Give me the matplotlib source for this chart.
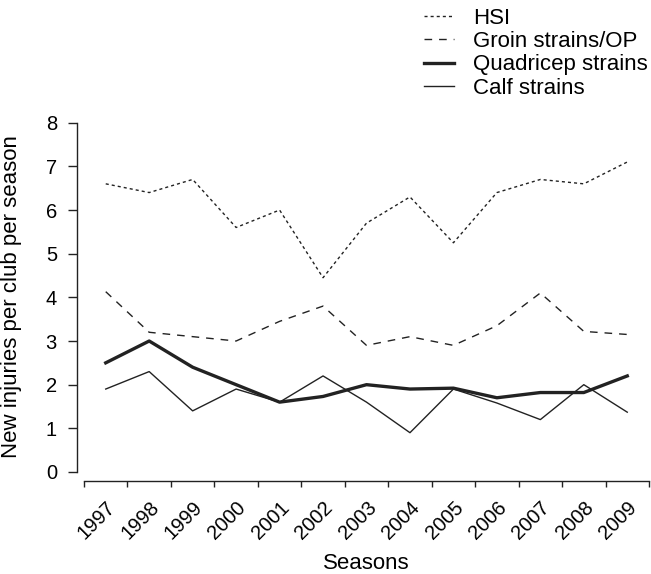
#!/usr/bin/env python

import numpy as np
import matplotlib.pyplot as plt

# Seasons and injury rates (new injuries per club per season).
seasons = ["1997", "1998", "1999", "2000", "2001", "2002", "2003",
           "2004", "2005", "2006", "2007", "2008", "2009"]
hsi = [6.6, 6.4, 6.7, 5.6, 6.0, 4.45, 5.7, 6.3, 5.25, 6.4, 6.7, 6.6, 7.1]
groin = [4.13, 3.2, 3.1, 3.0, 3.45, 3.8, 2.9, 3.1, 2.9, 3.35, 4.1, 3.22, 3.15]
quad = [2.5, 3.0, 2.4, 2.0, 1.6, 1.73, 2.0, 1.9, 1.92, 1.7, 1.82, 1.82, 2.2]
calf = [1.9, 2.3, 1.4, 1.9, 1.6, 2.2, 1.6, 0.9, 1.9, 1.58, 1.2, 2.0, 1.37]

plt.rcParams["font.family"] = ["Liberation Sans", "DejaVu Sans"]
plt.rcParams["font.size"] = 14

fig = plt.figure(figsize=(6.51, 5.74), dpi=100)
ax = fig.add_axes([84 / 651, (574 - 481) / 574, (649 - 84) / 651, (481 - 122.7) / 574])

x = np.arange(len(seasons)) + 0.5
col = "#222222"
ax.plot(x, hsi, color=col, lw=1.0, dashes=(2.2, 2.2), label="HSI")
ax.plot(x, groin, color=col, lw=1.0, dashes=(5.5, 5), label="Groin strains/OP")
ax.plot(x, quad, color=col, lw=2.4, label="Quadricep strains")
ax.plot(x, calf, color=col, lw=1.0, label="Calf strains")

ax.set_xlim(0, len(seasons))
ax.set_ylim(-9 / 43.66, 8)

# R-style detached axes
for s in ["top", "right"]:
    ax.spines[s].set_visible(False)
ax.spines["left"].set_position(("outward", 5))
ax.spines["left"].set_bounds(0, 8)
ax.spines["bottom"].set_bounds(0, len(seasons))
for s in ["left", "bottom"]:
    ax.spines[s].set_linewidth(1.0)
    ax.spines[s].set_color(col)

ax.set_yticks(range(0, 9))
ax.tick_params(axis="y", length=6.5, width=1.0, color=col, pad=8, labelsize=14.5)
ax.set_xticks(np.arange(len(seasons) + 1))
ax.set_xticklabels([])
ax.tick_params(axis="x", which="major", length=4.5, width=1.0, color=col)
ax.set_xticks(x, minor=True)
ax.set_xticklabels(seasons, minor=True, rotation=45, ha="right", va="top",
                   rotation_mode="anchor")
ax.tick_params(axis="x", which="minor", length=0, pad=12, labelsize=14.5)

ax.set_xlabel("Seasons", fontsize=16, labelpad=7)
ax.set_ylabel("New injuries per club per season", fontsize=16)
ax.yaxis.set_label_coords((22 - 84) / 565, (481 - 297) / 358.3)

ax.legend(loc="upper left", bbox_to_anchor=(424 / 651, 1.0 - 8 / 574),
          bbox_transform=fig.transFigure, fontsize=16,
          frameon=False, handlelength=1.35, handletextpad=0.85, labelspacing=0.1,
          borderaxespad=0, borderpad=0)

fig.savefig("out.png", dpi=100)
